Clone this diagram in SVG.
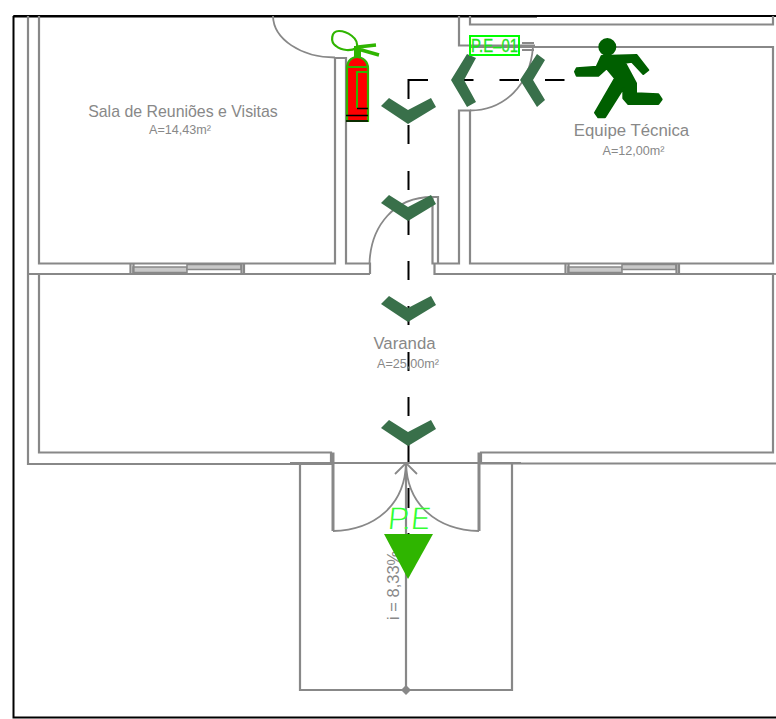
<svg xmlns="http://www.w3.org/2000/svg" width="776" height="719" viewBox="0 0 776 719">
<style>
.w{fill:none;stroke:#888;stroke-width:2.200}
.t{stroke:#888;stroke-width:1.800;fill:none}
.g{fill:#888;font-family:"Liberation Sans",Arial,sans-serif}
.c{fill:#39704a}
.win{fill:#c8c8c8;stroke:#888;stroke-width:1.500}
.m{text-anchor:middle}
.j{stroke-width:3}
</style>
<defs>
<polygon id="chev" class="c" points="-27,-5 -19,-13 0,-1 23,-13 28,-4 0,13"/>
<g id="window">
<rect class="win" x="133" y="267" width="54" height="5.500"/>
<rect class="win" x="187" y="264.500" width="54" height="5"/>
<path class="w" d="M130.500 263V274M133.500 263V274M241.500 263V274M244 263V274"/>
</g>
</defs>
<rect width="776" height="719" fill="#fff"/>
<path d="M13.500 16H776M13.500 16V717.500H776" fill="none" stroke="#000" stroke-width="2"/>
<path d="M13 16.500H537" stroke="#000" stroke-width="2"/>
<g id="walls">
<path class="w" d="M28 16V464H331V452.500H39V274M39 16V263.500H335V58H346V263.500H370V274M28 274H370"/>
<path class="w" d="M459 16V45.500H535M470 16V24.500H773V16M470 47H773V263.500H470V110.500H459V263.500H432.500V197H438V263M434.500 263.500V274H776M773 274V452.500H481V463.500H776M459 110.500H470"/>
<path class="w" d="M522 43H534M522 47H536M522 50H534"/>
<path class="w" d="M290 463H521M300 463V690H512V463"/>
<path class="w j" d="M333 452.500V531M479 452.500V531"/>
<path class="w" d="M406 463V690"/>
<use href="#window"/>
<use href="#window" x="435"/>
</g>
<g id="door-arcs" class="t">
<path d="M273 16A62 42 0 0 0 335 57.500"/>
<path d="M470 110.500C505 110 530 85 533 47"/>
<path d="M369.500 263C371 225 395 197 432 197"/>
<path d="M333 531C375 530 405 505 406 463"/>
<path d="M479 531C437 530 407 505 406 463"/>
<path d="M395 474L406 463L417 474"/>
</g>
<path d="M406 685L411 690L406 695L401 690Z" fill="#888"/>
<g id="connectors">
<path d="M408.500 80H575" fill="none" stroke="#000" stroke-width="2" stroke-dasharray="19.500 26"/>
<path d="M408.500 79V99M408.500 125V144M408.500 171V190M408.500 216V235M408.500 261V280M408.500 306V325M408.500 352V371M408.500 397V416M408.500 442V462M408.500 488V508M408.500 533V552" fill="none" stroke="#000" stroke-width="2"/>
</g>
<g id="arrows">
<use href="#chev" x="408" y="111"/>
<use href="#chev" x="408" y="208"/>
<use href="#chev" x="408" y="309"/>
<use href="#chev" x="408" y="433"/>
<polygon class="c" points="467,54 476,58 464,80 476,102 467,107 451,80"/>
<polygon class="c" points="537,54 545,60 533,80 545,100 537,107 520,80"/>
</g>
<g id="labels">
<text class="g m" x="183" y="116.500" font-size="15.900">Sala de Reuniões e Visitas</text>
<text class="g m" x="180" y="134" font-size="12.600">A=14,43m²</text>
<text class="g m" x="631.500" y="136" font-size="16.800">Equipe Técnica</text>
<text class="g m" x="633.500" y="155" font-size="12.600">A=12,00m²</text>
<text class="g m" x="404.500" y="348.500" font-size="16.800">Varanda</text>
<text class="g m" x="408" y="368" font-size="12.600">A=25,00m²</text>
<text class="g" transform="translate(399 620) rotate(-90)" font-size="16.500">i = 8,33%</text>
</g>
<g id="exit-sign-main">
<polygon points="384,534 433,534 408,579" fill="#2fb500"/>
<text transform="translate(387 529) skewX(-6)" font-family="Roboto,'Liberation Sans',Arial,sans-serif" font-weight="300" font-size="30" fill="#33ff33" textLength="42" lengthAdjust="spacingAndGlyphs">P.E</text>
</g>
<g id="exit-sign-01">
<rect x="470" y="36" width="49" height="19" fill="none" stroke="#0f0" stroke-width="2"/>
<text x="471" y="51.500" font-family="'Liberation Sans',Arial,sans-serif" font-size="17.500" fill="#19e619" stroke="#19e619" stroke-width=".3" textLength="47" lengthAdjust="spacingAndGlyphs">P.E–01</text>
</g>
<g id="extinguisher">
<path d="M347 121V68C347 62 351 57 357 57C363 57 368 62 368 68V121Z" fill="#f00" stroke="#2fb500" stroke-width="2.200"/>
<path d="M347 67H368M367 72H357V108" fill="none" stroke="#2fb500" stroke-width="2"/>
<path d="M346 115.500H368M346 121H368M357 108.500H368" stroke="#000" stroke-width="1.500"/>
<rect x="354" y="46" width="7" height="11" fill="#2fb500"/>
<path d="M358 47L376 45M358 49L379 55" stroke="#2fb500" stroke-width="3.500" fill="none"/>
<path d="M356.500 48C360 38 346 31 339 31C331 31 330 42 336 46C342 51 351 51 356.500 48Z" fill="none" stroke="#2fb500" stroke-width="2.200"/>
</g>
<g id="runner" transform="translate(560 10) scale(.3333)" fill="#005f00" stroke="#005f00" stroke-width="6" stroke-linejoin="round">
<circle cx="142" cy="111" r="24"/>
<polygon points="50,175 110,170 125,138 230,135 265,180 250,192 215,155 195,158 228,220 228,250 295,253 305,268 295,282 205,282 190,265 190,235 135,322 115,322 105,308 165,205 140,175 115,197 50,197 45,185"/>
</g>
</svg>
